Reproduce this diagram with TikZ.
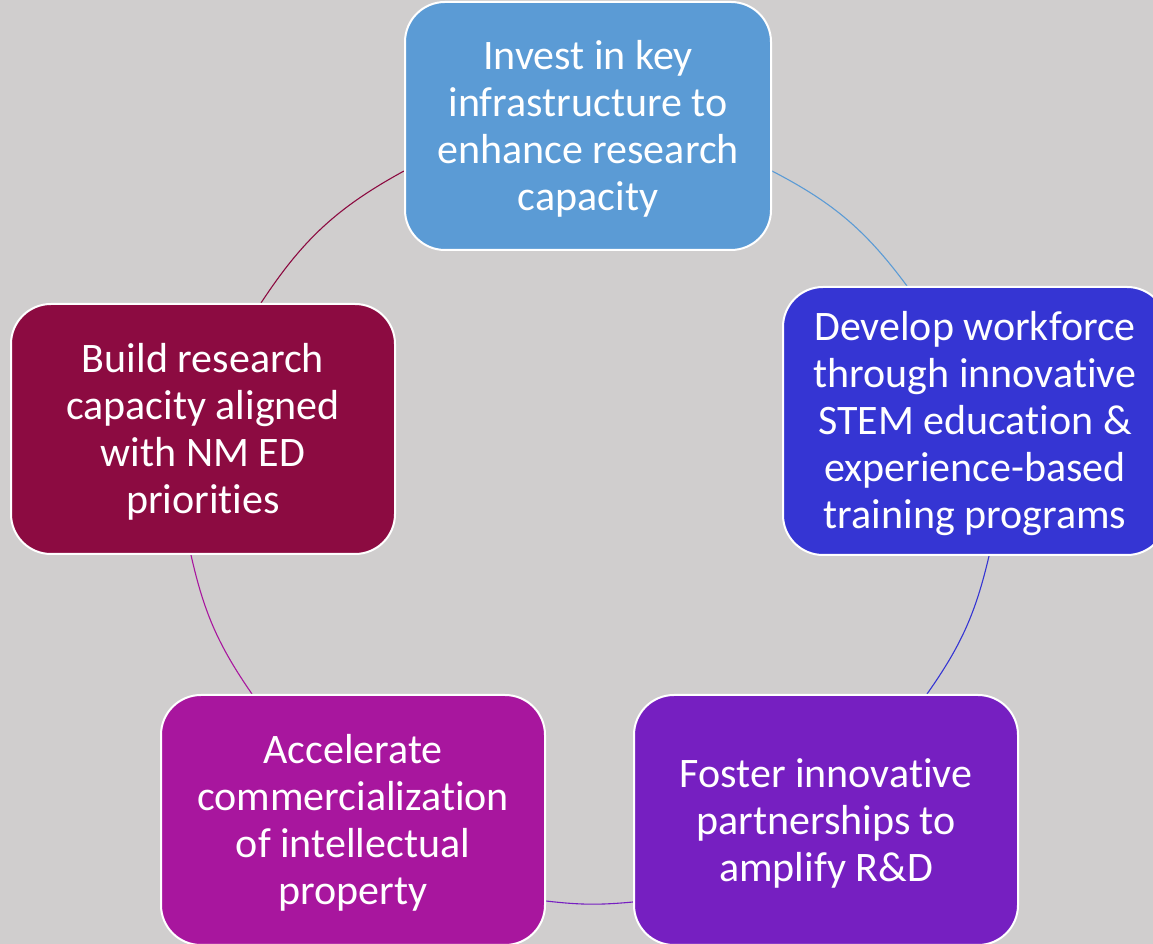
\documentclass[tikz,border=0pt]{standalone}
\usepackage{fontspec}
\setmainfont{Carlito}[Ligatures=NoCommon]
\usetikzlibrary{backgrounds}
\definecolor{bgc}{HTML}{D0CECE}
\definecolor{cone}{HTML}{5B9BD5}
\definecolor{ctwo}{HTML}{3535D3}
\definecolor{cthree}{HTML}{761FC1}
\definecolor{cfour}{HTML}{A8169E}
\definecolor{cfive}{HTML}{8C0B41}
\newcommand{\firstlinestrut}{\rule{0pt}{35pt}}
\tikzset{
  cyclebox/.style={draw=white, line width=2pt, rounded corners=40pt, inner sep=0pt,
    align=center, text=white, font=\fontsize{42}{47}\selectfont},
  cyclearc/.style={line width=1.1pt, bend left=#1},
}
\begin{document}
\begin{tikzpicture}[x=1pt,y=1pt]
\useasboundingbox (0,0) rectangle (1153,944);
\clip (0,0) rectangle (1153,944);
\node[cyclebox, fill=cone, minimum width=366pt, minimum height=248pt] (t) at (588,818)
  {\firstlinestrut Invest in key\\infrastructure to\\enhance research\\capacity};
\node[cyclebox, fill=ctwo, minimum width=384pt, minimum height=268pt] (r) at (975,523)
  {\firstlinestrut Develop workforce\\through innovative\\STEM education \&\\experience-based\\training programs};
\node[cyclebox, fill=cthree, minimum width=384pt, minimum height=250pt] (br) at (826,124)
  {\firstlinestrut Foster innovative\\partnerships to\\amplify R\&D};
\node[cyclebox, fill=cfour, minimum width=384pt, minimum height=250pt] (bl) at (353,124)
  {\firstlinestrut Accelerate\\commercialization\\of intellectual\\property};
\node[cyclebox, fill=cfive, minimum width=384pt, minimum height=250pt] (l) at (203,515)
  {\firstlinestrut Build research\\capacity aligned\\with NM ED\\priorities};
\coordinate (a1s) at (t.east |- 0,773);
\coordinate (a1e) at (907,0 |- r.north);
\coordinate (a2s) at (989,0 |- r.south);
\coordinate (a2e) at (927,0 |- br.north);
\coordinate (a3s) at (br.west |- 0,42);
\coordinate (a3e) at (bl.east |- 0,43);
\coordinate (a4s) at (252,0 |- bl.north);
\coordinate (a4e) at (191,0 |- l.south);
\coordinate (a5s) at (261,0 |- l.north);
\coordinate (a5e) at (t.west |- 0,773);
\begin{scope}[on background layer]
  \fill[bgc] (0,0) rectangle (1153,944);
  \draw[cyclearc=13, draw=cone] (a1s) to (a1e);
  \draw[cyclearc=11, draw=ctwo] (a2s) to (a2e);
  \draw[cyclearc=6, draw=cthree] (a3s) to (a3e);
  \draw[cyclearc=11, draw=cfour] (a4s) to (a4e);
  \draw[cyclearc=14, draw=cfive] (a5s) to (a5e);
\end{scope}
\end{tikzpicture}
\end{document}
